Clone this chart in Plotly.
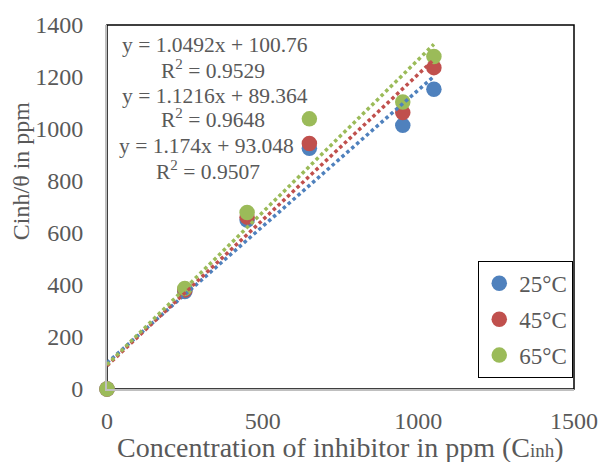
import plotly.graph_objects as go

# ---- data ----
conc = [0, 250, 450, 650, 950, 1050]
series_names = ["25°C", "45°C", "65°C"]
y_25 = [0, 375, 650, 926, 1014, 1153]
y_45 = [0, 381, 661, 944, 1063, 1236]
y_65 = [0, 387, 679, 1039, 1104, 1279]
slopes = [1.0492, 1.1216, 1.174]
intercepts = [100.76, 89.364, 93.048]
r2_values = [0.9529, 0.9648, 0.9507]
x_ticks = [0, 500, 1000, 1500]
y_ticks = [0, 200, 400, 600, 800, 1000, 1200, 1400]

colors = ["#4F81BD", "#C0504D", "#9BBB59"]
series_values = [y_25, y_45, y_65]
FONT = "Liberation Serif"
TXT = "#595959"

fig = go.Figure()
for name, vals, col in zip(series_names, series_values, colors):
    fig.add_trace(go.Scatter(
        x=conc, y=vals, mode="markers", name=name,
        marker=dict(size=15.5, color=col, line=dict(width=0)),
        cliponaxis=False, legendgroup=name,
    ))

trend_x = [conc[0], conc[-1]]
for name, m, b, col in zip(series_names, slopes, intercepts, colors):
    fig.add_trace(go.Scatter(
        x=trend_x, y=[m * xv + b for xv in trend_x], mode="lines",
        line=dict(color=col, width=3.5, dash="3.5px,3px"),
        showlegend=False, hoverinfo="skip",
    ))

# trendline equation labels
eq_pos = [(346, 1324, 340, 1229), (346, 1127, 340, 1039), (321, 933, 324, 842)]
annotations = []
for (m, b, r2), (ex, ey, rx, ry) in zip(zip(slopes, intercepts, r2_values), eq_pos):
    annotations.append(dict(x=ex, y=ey, xref="x", yref="y", showarrow=False,
                            text=f"y = {m}x + {b}", font=dict(family=FONT, size=21.5, color=TXT)))
    annotations.append(dict(x=rx, y=ry, xref="x", yref="y", showarrow=False,
                            text=f"R<sup>2</sup> = {r2}", font=dict(family=FONT, size=21.5, color=TXT)))

annotations.append(dict(x=0.5, y=-0.16, xref="paper", yref="paper", showarrow=False,
                        xanchor="center", yanchor="middle",
                        text="Concentration of inhibitor in ppm (C<span style='font-size:19px'>inh</span>)",
                        font=dict(family=FONT, size=28, color=TXT)))
annotations.append(dict(x=-0.185, y=0.6, xref="paper", yref="paper", showarrow=False,
                        xanchor="center", yanchor="middle", textangle=-90,
                        text="Cinh/θ in ppm",
                        font=dict(family=FONT, size=24, color=TXT)))

fig.update_layout(
    width=610, height=462,
    margin=dict(l=107, r=30, t=20, b=73),
    paper_bgcolor="white", plot_bgcolor="white",
    font=dict(family=FONT, size=24, color=TXT),
    showlegend=True,
    legend=dict(x=0.795, y=0.352, xanchor="left", yanchor="top",
                bordercolor="black", borderwidth=1, bgcolor="white",
                font=dict(family=FONT, size=23, color=TXT),
                traceorder="grouped", tracegroupgap=3, itemwidth=30),
    annotations=annotations,
    shapes=[dict(type="rect", xref="paper", yref="paper", x0=0, y0=0, x1=1, y1=1,
                 line=dict(color="black", width=1.5), layer="below")],
)
fig.update_xaxes(range=[0, 1500], tickvals=x_ticks, showgrid=False, zeroline=False,
                 showline=True, linecolor="#BFBFBF", linewidth=2, ticks="",
                 ticklabelstandoff=9, tickfont=dict(family=FONT, size=24, color=TXT))
fig.update_yaxes(range=[0, 1400], tickvals=y_ticks, showgrid=False, zeroline=False,
                 showline=True, linecolor="#BFBFBF", linewidth=2, ticks="",
                 ticklabelstandoff=17, tickfont=dict(family=FONT, size=24, color=TXT))

fig.write_html("out.html")
